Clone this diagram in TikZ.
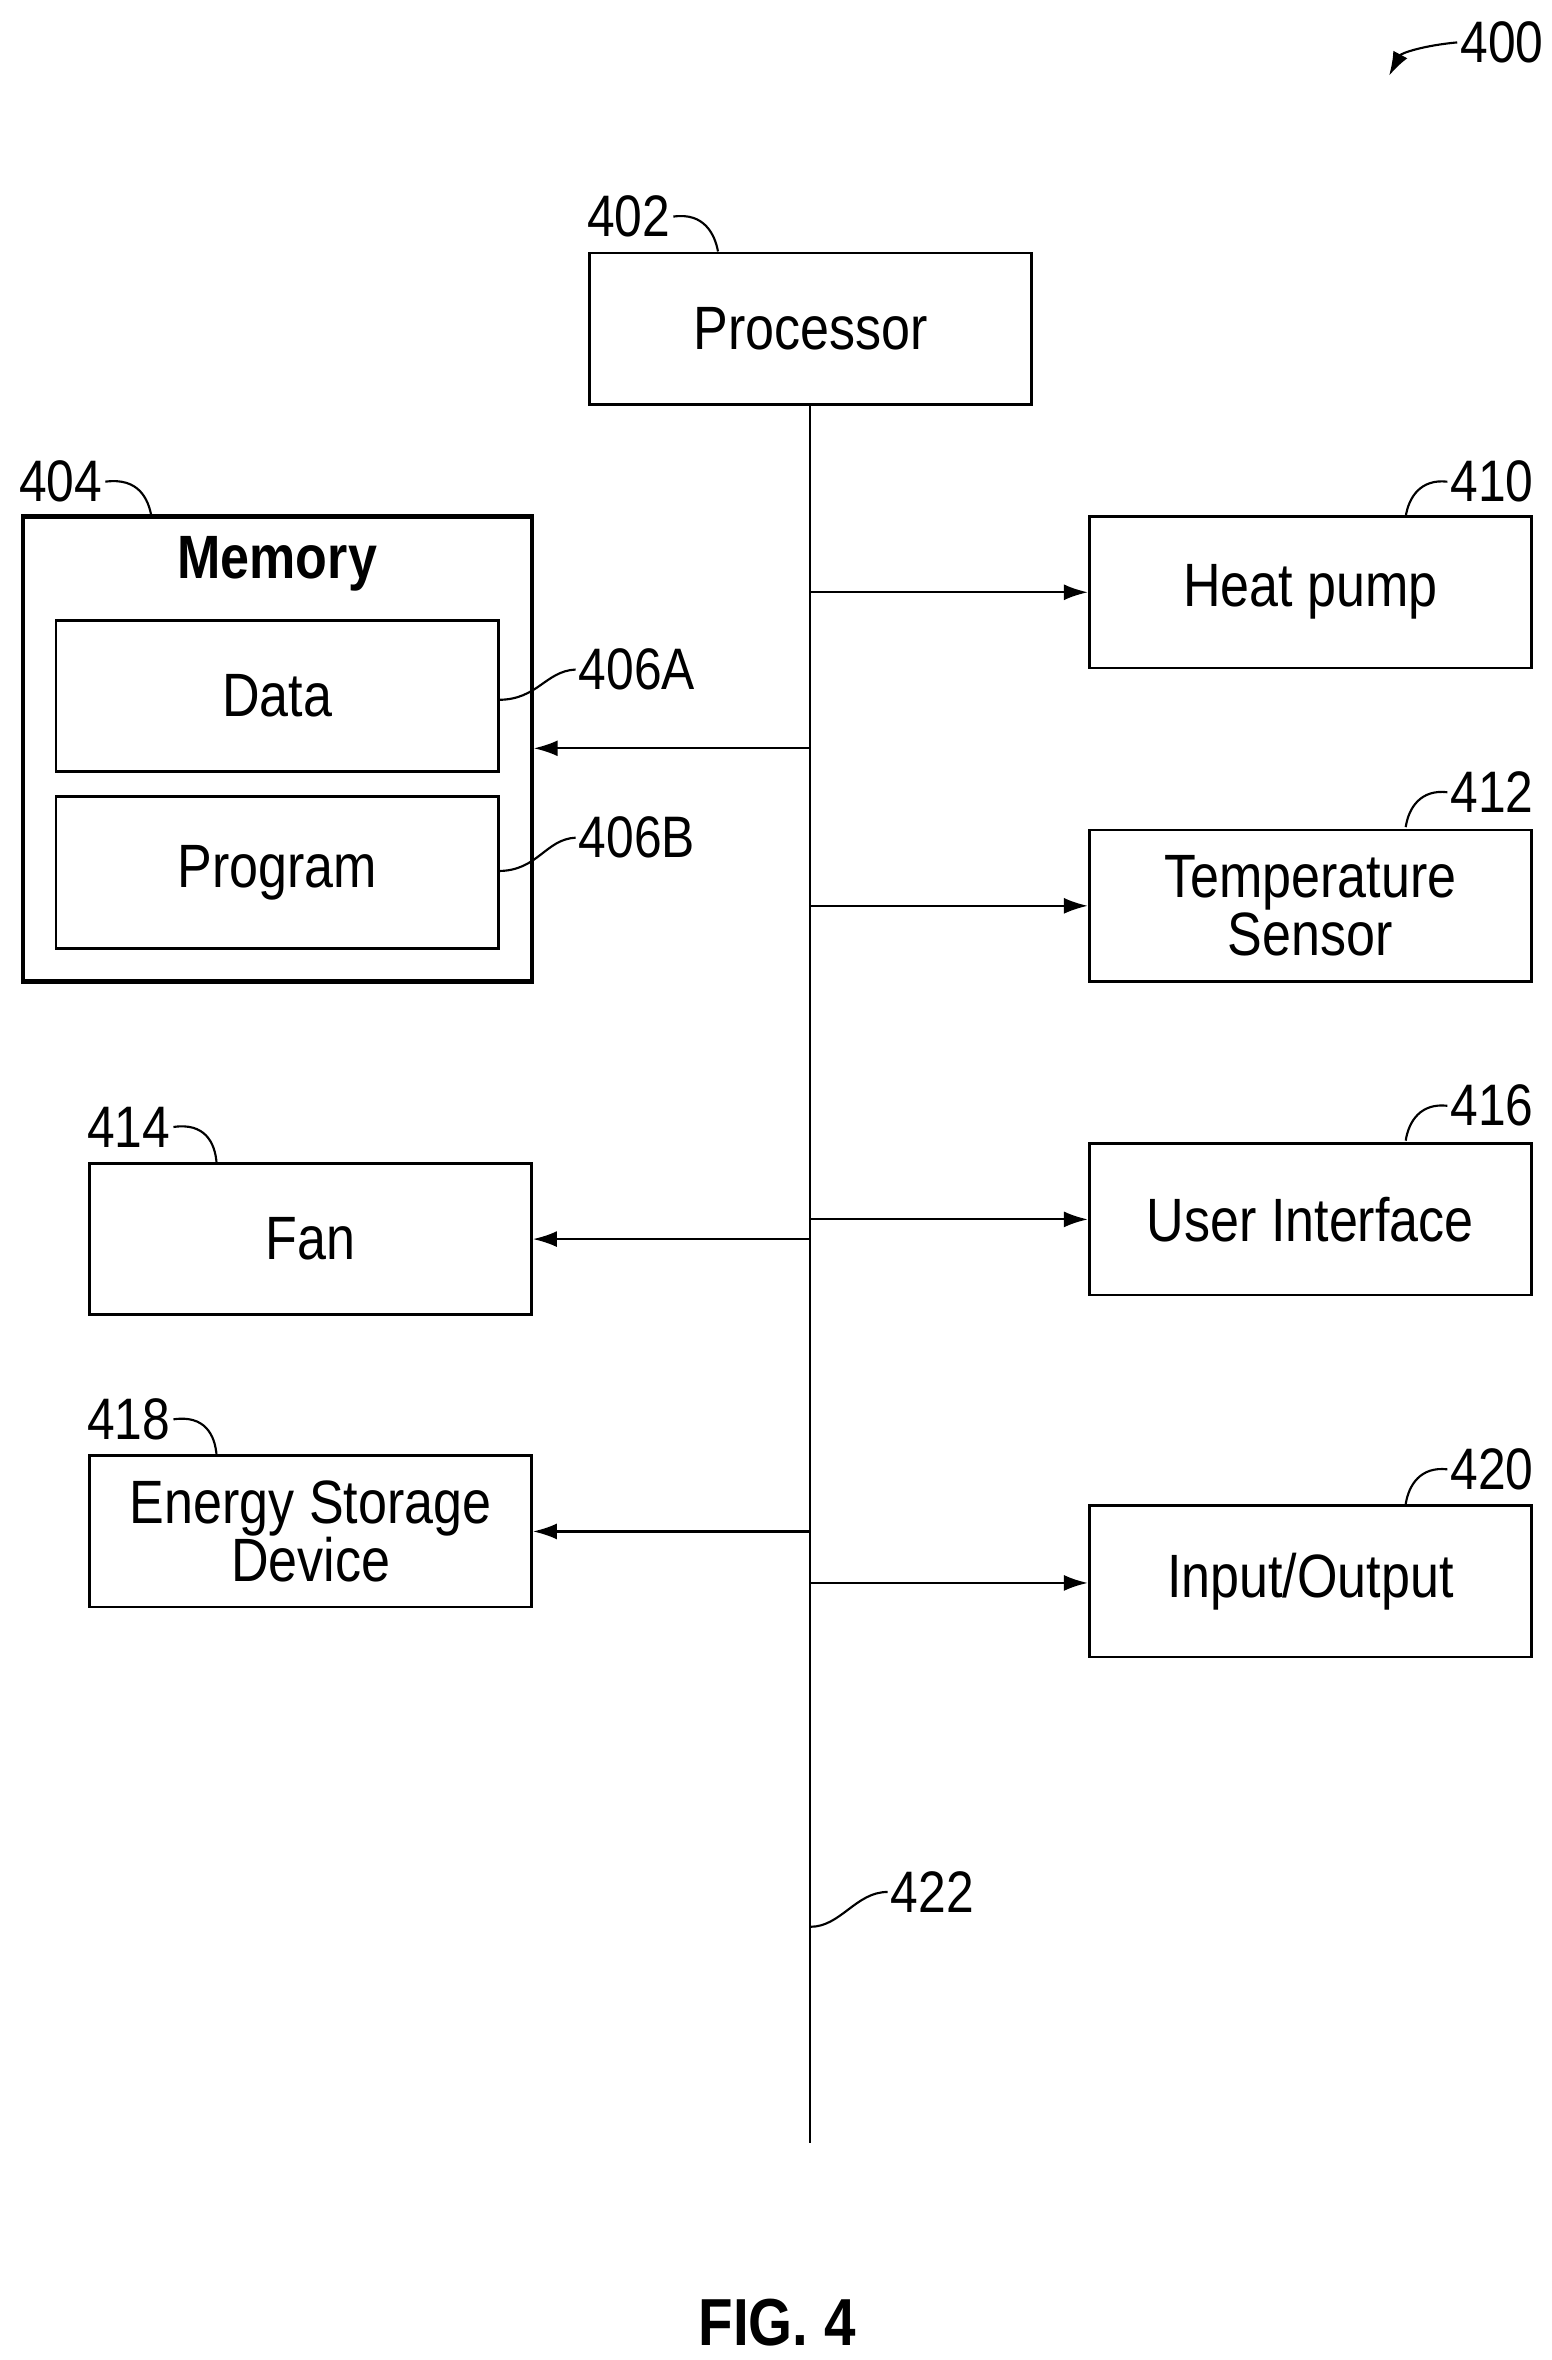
\documentclass[tikz,border=0pt]{standalone}
\usepackage{fontspec}
\usetikzlibrary{arrows.meta}
\setmainfont{Liberation Sans}[FakeStretch=0.85]
\begin{document}
\begin{tikzpicture}[x=0.02cm,y=-0.02cm,
 box/.style={draw,line width=1pt,minimum width=5.84cm,minimum height=2cm,inner sep=0pt,align=center,font=\fontsize{23}{22}\selectfont},
 lbl/.style={font=\fontsize{22}{22}\selectfont,inner sep=1pt},
 ar/.style={-{Latex[length=9pt,width=6pt]},line width=0.8pt},
 ld/.style={line width=0.8pt}]
\useasboundingbox (0,0) rectangle (1024,1558);
\node[box] (proc) at (535,217) {Processor};
\node[draw,line width=1.6pt,minimum width=6.72cm,minimum height=6.14cm,inner sep=0pt] (mem) at (183,494.5) {};
\node[font=\fontsize{23}{22}\selectfont\bfseries] (memt) at (183,372) {Memory};
\node[box] (data) at (183,459.5) {Data};
\node[box] (prog) at (183,576) {Program};
\node[box] (hp) at (865,391) {Heat pump};
\node[box] (ts) at (865,598) {Temperature\\Sensor};
\node[box] (ui) at (865,805) {User Interface};
\node[box] (io) at (865,1044) {Input/Output};
\node[box] (fan) at (205,818) {Fan};
\node[box] (es) at (205,1011) {Energy Storage\\Device};
\coordinate (busend) at (535,1415);
\draw[ld] (proc.south) -- (busend);
\foreach \y/\n in {391/hp,598/ts,805/ui,1045/io}
  \draw[ar] (535,\y) -- (\n.west |- 0,\y);
\draw[ar] (535,494) -- (mem.east |- 0,494);
\draw[ar] (535,818) -- (fan.east);
\draw[ar] (535,1011) -- (es.east);
% labels
\node[lbl,anchor=west] (l400) at (962,28) {400};
\draw[-{Latex[length=9pt,width=6pt]},ld] (l400.west) .. controls (940,30) and (925,35) .. (917,50);
\node[lbl] (l402) at (415,143) {402};
\draw[ld] (l402.east) .. controls (465,140) and (472,155) .. (474,166);
\node[lbl] (l404) at (40,318) {404};
\draw[ld] (l404.east) .. controls (92,315) and (98,330) .. (100,341);
\foreach \n/\x/\y/\t in {410/985/318/hp,412/985/523/ts,416/985/730/ui,420/985/970/io}{
  \node[lbl] (l\n) at (\x,\y) {\n};
  \draw[ld] (l\n.west) .. controls (938,\y-2) and (930,\y+10) .. (928,\y+23);}
\foreach \n/\y in {414/744,418/937}{
  \node[lbl] (l\n) at (85,\y) {\n};
  \draw[ld] (l\n.east) .. controls (135,\y-3) and (142,\y+10) .. (143,\y+24);}
\node[lbl,anchor=west] (l406a) at (380,442) {406A};
\draw[ld] (l406a.west) .. controls (360,443) and (355,462) .. (329,462);
\node[lbl,anchor=west] (l406b) at (380,553) {406B};
\draw[ld] (l406b.west) .. controls (360,554) and (355,575) .. (329,575);
\node[lbl,anchor=west] (l422) at (586,1249) {422};
\draw[ld] (l422.west) .. controls (565,1249) and (555,1272) .. (535,1272);
\node[font=\fontsize{25}{25}\selectfont\bfseries] (fig) at (513,1533) {FIG. 4};
\end{tikzpicture}
\end{document}
